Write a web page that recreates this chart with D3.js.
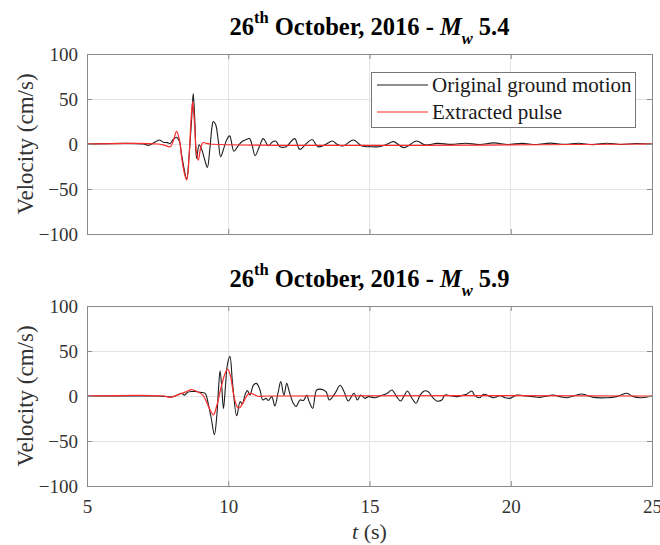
<!DOCTYPE html>
<html><head><meta charset="utf-8">
<script src="https://cdn.jsdelivr.net/npm/d3@7"></script>
<style>
html,body{margin:0;padding:0;background:#fff;}
svg{display:block;font-family:'Liberation Serif','Times New Roman',Tinos,'DejaVu Serif',serif;}
svg text{font-family:'Liberation Serif','Times New Roman',Tinos,'DejaVu Serif',serif !important;white-space:pre;}
</style>
</head><body>
<svg id="chart" width="660" height="545"></svg>
<script>
// ---------- data ----------
const xTicks = [5, 10, 15, 20, 25];
const yTicks = [-100, -50, 0, 50, 100];
const titleDays = ["26", "26"];
const titleMagnitudes = ["5.4", "5.9"];
const seriesNames = ["Original ground motion", "Extracted pulse"];

// Panel 1 (Mw 5.4) - original ground motion
const topOrigT = [5,7.0,7.17,7.35,7.56,7.7,7.85,7.94,8.06,8.17,8.27,8.35,8.44,8.53,8.62,8.71,8.76,8.82,8.88,8.97,9.07,9.17,9.26,9.35,9.42,9.47,9.53,9.57,9.65,9.73,9.85,9.95,10.05,10.2,10.35,10.5,10.6,10.75,10.85,10.95,11.1,11.24,11.42,11.55,11.68,11.83,12.05,12.35,12.53,12.77,12.97,13.17,13.39,13.69,13.84,14.06,14.43,14.73,15.03,15.33,15.6,15.85,16.22,16.67,16.97,17.4,17.9,18.4,18.9,19.4,19.9,20.4,20.9,21.4,21.9,22.4,22.9,23.4,23.9,24.4,25];
const topOrigV = [0,0,-1.5,1,4.5,2,1.5,0.5,5.5,7.4,3,-12,-28,-39,-10,31,56,24,-16,-1,-7,-18,-26,-5,18,25,23,20,3,-14,-4,5,9,-8,-2,3,4.5,6,-2,-13,-3,6,-2,2,3.3,-3,-3,6,-6,0.7,5,-3,-1.5,3.3,0,-2.2,4.4,-2.2,-3,-3,-0.5,2.6,-4,3.3,-1,0.7,-0.4,0.8,-0.6,1.2,-0.5,0.7,-0.6,1,-0.4,0.8,-0.7,0.9,-0.5,0.6,0];

// Panel 1 (Mw 5.4) - extracted pulse
const topPulseT = [5,7.5,7.75,7.95,8.05,8.17,8.27,8.35,8.45,8.53,8.62,8.68,8.74,8.8,8.87,8.94,9.02,9.1,9.2,9.35,25];
const topPulseV = [0,0,-1.5,-3,3,14,5,-15,-33,-40,-10,25,47,25,-8,-18,-5,1.5,1,0,0];

// Panel 2 (Mw 5.9) - original ground motion
const botOrigT = [5,7.5,7.8,8.0,8.2,8.35,8.45,8.55,8.7,8.85,9.0,9.18,9.3,9.4,9.51,9.6,9.66,9.71,9.77,9.83,9.9,9.97,10.06,10.15,10.3,10.42,10.5,10.59,10.68,10.77,10.89,11.0,11.12,11.22,11.34,11.42,11.54,11.65,11.77,11.86,11.97,12.07,12.16,12.3,12.4,12.54,12.66,12.78,12.86,12.99,13.13,13.31,13.46,13.58,13.78,13.96,14.1,14.25,14.45,14.57,14.69,14.84,14.96,15.19,15.37,15.63,15.79,15.96,16.1,16.23,16.34,16.49,16.65,16.79,16.94,17.08,17.24,17.38,17.56,17.67,17.85,18.09,18.32,18.44,18.62,18.73,18.91,19.03,19.2,19.38,19.62,19.8,19.97,20.21,20.44,20.8,21.03,21.5,21.74,21.98,22.51,22.92,23.4,23.75,24.1,24.34,24.58,24.93,25];
const botOrigV = [0,0,-0.5,-1,1,3,1,4,5,5,4,3,-10,-25,-43,-20,10,28,10,-14,10,35,44,15,-22,-6.3,-8.9,1,6,1,12,14,7,-4.4,-2.6,-5,-0.7,-11,4.8,16,1,14,4.8,-8,-11.8,-4.4,-5,1,-6,-13.7,6.7,7.4,4.8,-4.4,3,12,4.8,-5.6,3,-4.4,1,-2.6,-0.7,-1.9,0,3,6.7,-0.7,-5.6,0.4,5.6,-1.9,-8,1,5.6,4.8,-1.9,-5.6,-4.4,1,0.4,-0.7,1,1.9,5.6,0.4,-1.9,1.9,0.4,-1.9,0.4,-1.9,-2.6,1,0.4,-0.7,-1.5,1,-0.7,-1.9,2.2,-1.5,-1.9,-0.7,3,-0.7,-1.9,-0.4,0];

// Panel 2 (Mw 5.9) - extracted pulse
const botPulseT = [5,7.7,7.95,8.2,8.45,8.7,8.9,9.1,9.25,9.47,9.6,9.75,9.9,9.98,10.08,10.2,10.32,10.4,10.55,10.7,10.8,10.95,11.1,11.3,25];
const botPulseV = [0,0,-1.5,1,4,7,5,1,-8,-21,-10,10,26,30,22,0,-12,-13,-6,2,3,1,-0.5,0,0];

// ---------- layout ----------
const plotLeft = 87, plotRight = 652, plotH = 180;
const panelTops = [54, 306];
const fontSerif = "'Liberation Serif','Times New Roman',Tinos,'DejaVu Serif',serif";

const svg = d3.select("#chart").attr("font-family", fontSerif);
const x = d3.scaleLinear().domain([5, 25]).range([plotLeft, plotRight]);

const panels = [
  {top: panelTops[0], orig: [topOrigT, topOrigV], pulse: [topPulseT, topPulseV], day: titleDays[0], mag: titleMagnitudes[0], legend: true, xLabels: false},
  {top: panelTops[1], orig: [botOrigT, botOrigV], pulse: [botPulseT, botPulseV], day: titleDays[1], mag: titleMagnitudes[1], legend: false, xLabels: true}
];

const axisColor = "#8a8a8a", textColor = "#333", gridColor = "#e4e4e4";

panels.forEach((p, i) => {
  const y = d3.scaleLinear().domain([-100, 100]).range([p.top + plotH, p.top]);
  const g = svg.append("g");

  g.selectAll(".gx").data(xTicks.slice(1, -1)).join("line")
    .attr("x1", d => x(d)).attr("x2", d => x(d))
    .attr("y1", p.top).attr("y2", p.top + plotH)
    .attr("stroke", gridColor).attr("stroke-width", 1).attr("shape-rendering", "crispEdges");
  g.selectAll(".gy").data(yTicks.slice(1, -1)).join("line")
    .attr("x1", plotLeft).attr("x2", plotRight)
    .attr("y1", d => y(d)).attr("y2", d => y(d))
    .attr("stroke", gridColor).attr("stroke-width", 1).attr("shape-rendering", "crispEdges");

  svg.append("clipPath").attr("id", "clip" + i).append("rect")
    .attr("x", plotLeft).attr("y", p.top).attr("width", plotRight - plotLeft).attr("height", plotH);

  const line = d3.line().x(d => x(d[0])).y(d => y(d[1])).curve(d3.curveCatmullRom.alpha(0.5));
  const origData = d3.zip(p.orig[0], p.orig[1]);
  const pulseData = d3.zip(p.pulse[0], p.pulse[1]);
  const lg = g.append("g").attr("clip-path", `url(#clip${i})`);
  lg.append("path").datum(origData).attr("d", line)
    .attr("fill", "none").attr("stroke", "#1e1e1e").attr("stroke-width", 1.1).attr("stroke-linejoin", "round");
  lg.append("path").datum(pulseData).attr("d", line)
    .attr("fill", "none").attr("stroke", "#ff2a2a").attr("stroke-width", 1.2).attr("stroke-linejoin", "round");

  const axL = d3.axisLeft(y).tickValues(yTicks).tickSizeInner(-5).tickSizeOuter(0).tickPadding(9);
  const axR = d3.axisRight(y).tickValues(yTicks).tickSizeInner(-5).tickSizeOuter(0).tickFormat("");
  const axB = d3.axisBottom(x).tickValues(xTicks).tickSizeInner(-5).tickSizeOuter(0).tickPadding(14);
  const axT = d3.axisTop(x).tickValues(xTicks).tickSizeInner(-5).tickSizeOuter(0).tickFormat("");
  if (!p.xLabels) axB.tickFormat("");

  const styleAxis = sel => {
    sel.attr("font-family", fontSerif).attr("font-size", 19);
    sel.select(".domain").attr("stroke", axisColor).attr("stroke-width", 1);
    sel.selectAll(".tick line").attr("stroke", axisColor);
    sel.selectAll(".tick text").attr("fill", textColor);
  };
  g.append("g").attr("transform", `translate(${plotLeft},0)`).call(axL).call(styleAxis);
  g.append("g").attr("transform", `translate(${plotRight},0)`).call(axR).call(styleAxis);
  g.append("g").attr("transform", `translate(0,${p.top + plotH})`).call(axB).call(styleAxis);
  g.append("g").attr("transform", `translate(0,${p.top})`).call(axT).call(styleAxis);

  g.append("text")
    .attr("transform", `translate(33,${p.top + plotH / 2}) rotate(-90)`)
    .attr("text-anchor", "middle").attr("font-size", 23).attr("fill", textColor)
    .text("Velocity (cm/s)");

  const cx = (plotLeft + plotRight) / 2;
  const t = g.append("text").attr("x", cx).attr("y", p.top - 19)
    .attr("text-anchor", "middle").attr("font-size", 24.5).attr("font-weight", "bold").attr("fill", "#000");
  t.append("tspan").text(p.day);
  t.append("tspan").attr("dy", -12).attr("font-size", 16.5).text("th");
  t.append("tspan").attr("dy", 12).text(" October, 2016 - ");
  t.append("tspan").attr("font-style", "italic").text("M");
  t.append("tspan").attr("dy", 9).attr("font-size", 16.5).attr("font-style", "italic").text("w");
  t.append("tspan").attr("dy", -9).text(" " + p.mag);

  if (p.legend) {
    const lgX = 371, lgY = 72, lgW = 264, lgH = 55;
    const leg = g.append("g");
    leg.append("rect").attr("x", lgX).attr("y", lgY).attr("width", lgW).attr("height", lgH)
      .attr("fill", "#fff").attr("stroke", "#777").attr("stroke-width", 1).attr("shape-rendering", "crispEdges");
    const colors = ["#1e1e1e", "#ff2a2a"];
    seriesNames.forEach((name, k) => {
      const ry = lgY + 13 + k * 27;
      leg.append("line").attr("x1", lgX + 6).attr("x2", lgX + 57).attr("y1", ry).attr("y2", ry)
        .attr("stroke", colors[k]).attr("stroke-width", 1.2);
      leg.append("text").attr("x", lgX + 61).attr("y", ry + 7).attr("font-size", 21).attr("fill", "#1a1a1a").text(name);
    });
  }
});

svg.append("text").attr("x", (plotLeft + plotRight) / 2).attr("y", 539)
  .attr("text-anchor", "middle").attr("font-size", 22).attr("fill", textColor)
  .call(s => { s.append("tspan").attr("font-style", "italic").text("t"); s.append("tspan").text(" (s)"); });
</script>
</body></html>
